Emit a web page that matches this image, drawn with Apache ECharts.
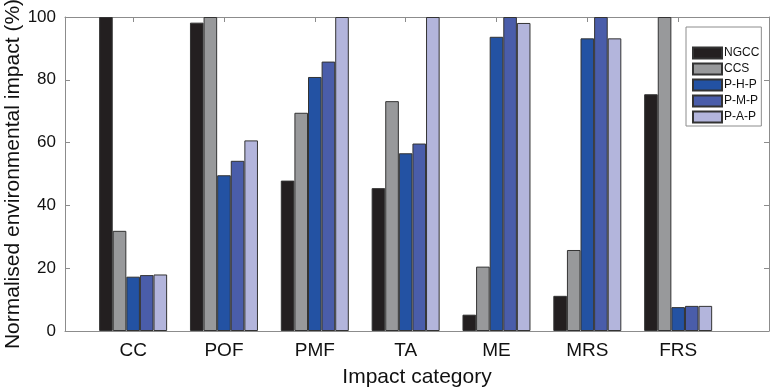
<!DOCTYPE html>
<html>
<head>
<meta charset="utf-8">
<script src="https://cdn.jsdelivr.net/npm/echarts@6/dist/echarts.min.js"></script>
<style>html,body{margin:0;padding:0;background:#fff;}#c{width:771px;height:389px;}</style>
</head>
<body>
<div id="c"></div>
<script>
const categories = ['CC', 'POF', 'PMF', 'TA', 'ME', 'MRS', 'FRS'];
const seriesNames = ['NGCC', 'CCS', 'P-H-P', 'P-M-P', 'P-A-P'];
const NGCC = [100, 98.2, 47.9, 45.5, 5.2, 11.2, 75.4];
const CCS = [31.9, 100, 69.5, 73.2, 20.5, 25.8, 100];
const PHP = [17.3, 49.6, 80.9, 56.6, 93.7, 93.2, 7.6];
const PMP = [17.8, 54.2, 85.8, 59.7, 100, 100, 8.0];
const PAP = [18.0, 60.7, 100, 100, 98.1, 93.2, 8.0];
const yTicks = [0, 20, 40, 60, 80, 100];

const colors = ['#231f20', '#98999b', '#2352a3', '#4a5daa', '#b3b5dc'];
const values = [NGCC, CCS, PHP, PMP, PAP];
const catPos = categories.map((c, i) => i + 1);
const FONT = '"Liberation Sans", Arial, Helvetica, sans-serif';
const axisColor = '#8c8c8c';

const chart = echarts.init(document.getElementById('c'), null, {renderer: 'canvas'});
chart.setOption({
  animation: false,
  backgroundColor: '#fff',
  textStyle: {fontFamily: FONT},
  grid: {left: 65, right: 2, top: 17, bottom: 58, containLabel: false, outerBoundsMode: 'none'},
  legend: {
    orient: 'vertical',
    left: 686, top: 27,
    width: 75,
    padding: [19, 2, 2, 6],
    itemWidth: 29, itemHeight: 11, itemGap: 2,
    backgroundColor: '#fff',
    borderColor: '#8c8c8c', borderWidth: 1, borderRadius: 0,
    icon: 'rect',
    textStyle: {fontSize: 12, lineHeight: 14, color: '#111', fontFamily: FONT, padding: [0, 0, 0, -3]},
    data: seriesNames
  },
  xAxis: [{
    type: 'value', min: 0.25, max: 8, position: 'bottom',
    axisLine: {show: true, onZero: false, lineStyle: {color: axisColor, width: 1}},
    axisTick: {show: true, inside: true, length: 5, customValues: catPos, lineStyle: {color: axisColor}},
    axisLabel: {show: true, customValues: catPos, formatter: v => categories[Math.round(v) - 1] || '', fontSize: 19, color: '#111', margin: 10, fontFamily: FONT},
    splitLine: {show: false},
    name: 'Impact category', nameLocation: 'middle', nameGap: 36, nameMoveOverlap: false,
    nameTextStyle: {fontSize: 21, color: '#111', fontFamily: FONT}
  }, {
    type: 'value', min: 0.25, max: 8, position: 'top',
    axisLine: {show: true, onZero: false, lineStyle: {color: axisColor, width: 1}},
    axisTick: {show: true, inside: true, length: 5, customValues: catPos, lineStyle: {color: axisColor}},
    axisLabel: {show: false},
    splitLine: {show: false}
  }],
  yAxis: [{
    type: 'value', min: 0, max: 100, interval: 20, position: 'left',
    axisLine: {show: true, onZero: false, lineStyle: {color: axisColor, width: 1}},
    axisTick: {show: true, inside: true, length: 5, lineStyle: {color: axisColor}},
    axisLabel: {fontSize: 17, color: '#111', margin: 9, fontFamily: FONT},
    splitLine: {show: false},
    name: 'Normalised environmental impact (%)', nameLocation: 'middle', nameGap: 41, nameMoveOverlap: false,
    nameTextStyle: {fontSize: 21, color: '#111', fontFamily: FONT}
  }, {
    type: 'value', min: 0, max: 100, interval: 20, position: 'right',
    axisLine: {show: true, onZero: false, lineStyle: {color: axisColor, width: 1}},
    axisTick: {show: true, inside: true, length: 5, lineStyle: {color: axisColor}},
    axisLabel: {show: false},
    splitLine: {show: false}
  }],
  series: seriesNames.map((name, si) => ({
    name: name,
    type: 'bar',
    xAxisIndex: 0, yAxisIndex: 0,
    barWidth: 13.6,
    barGap: '0%',
    itemStyle: {color: colors[si], borderColor: '#333', borderWidth: 1},
    data: values[si].map((v, i) => [catPos[i], v])
  }))
});
</script>
</body>
</html>
